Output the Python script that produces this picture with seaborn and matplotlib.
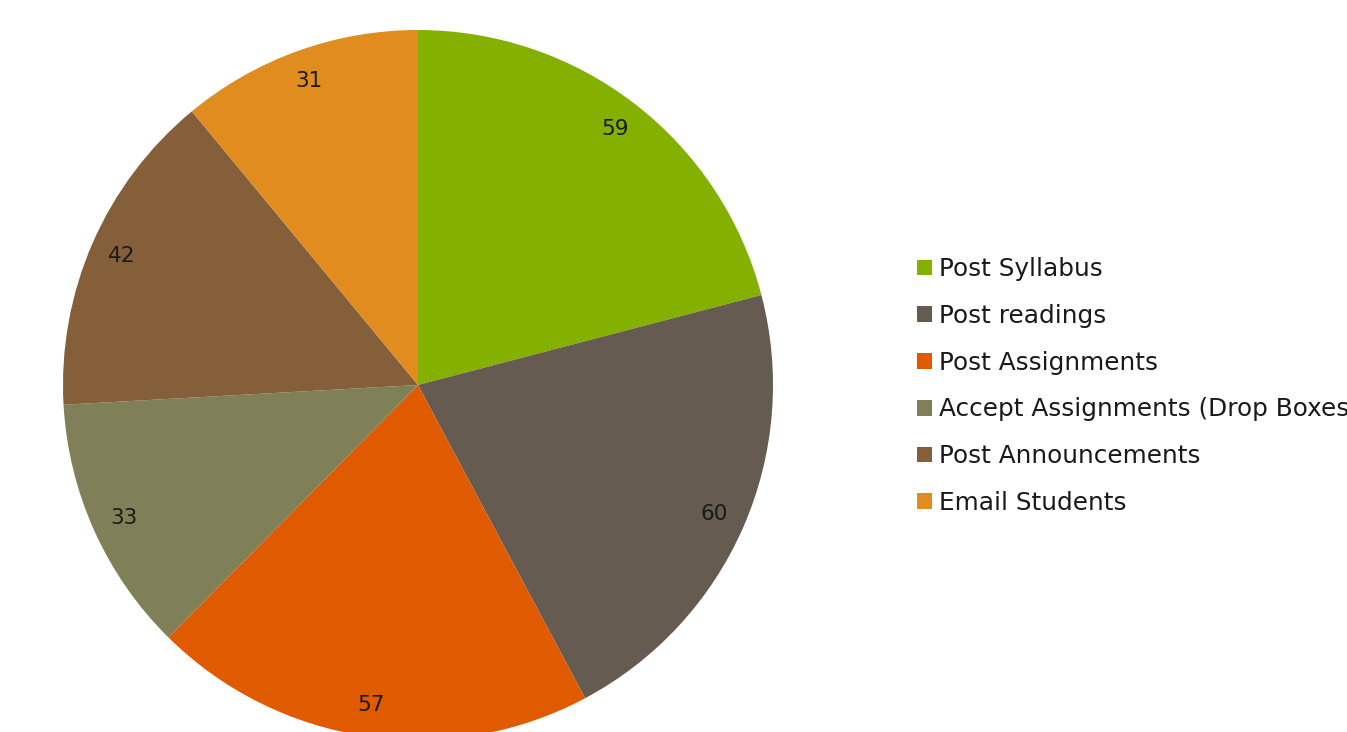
import matplotlib
matplotlib.use("Agg")
import matplotlib.pyplot as plt
import seaborn as sns
from matplotlib.patches import Patch

categories = ["Post Syllabus", "Post readings", "Post Assignments",
              "Accept Assignments (Drop Boxes)", "Post Announcements", "Email Students"]
values = [59, 60, 57, 33, 42, 31]
colors = ["#84B000", "#655B50", "#E05A00", "#7F8057", "#845F3A", "#E08C1F"]

sns.set_theme(style="white")
plt.rcParams['font.family'] = ['DejaVu Sans']

W, H = 1347, 732
fig = plt.figure(figsize=(W / 100, H / 100), dpi=100)
cx, cy, r = 418, 385, 355
ax = fig.add_axes([(cx - r) / W, (H - cy - r) / H, 2 * r / W, 2 * r / H])
wedges, texts = ax.pie(values, colors=colors, startangle=90, counterclock=False,
                       labels=[str(v) for v in values], labeldistance=0.91,
                       wedgeprops=dict(linewidth=0),
                       textprops=dict(fontsize=15.5, color="#1a1a1a", ha="center", va="center"))
ax.set_xlim(-1, 1)
ax.set_ylim(-1, 1)
ax.set_aspect("equal")
ax.axis("off")

handles = [Patch(facecolor=c, edgecolor="none", label=l) for c, l in zip(colors, categories)]
leg = fig.legend(handles=handles, loc="center left", bbox_to_anchor=(917 / W, 1 - 386 / H),
                 frameon=False, fontsize=17.8, handlelength=0.6, handleheight=0.6,
                 handletextpad=0.3, labelspacing=0.92, borderaxespad=0, borderpad=0,
                 labelcolor="#1a1a1a")
fig.savefig("out.png", dpi=100)
